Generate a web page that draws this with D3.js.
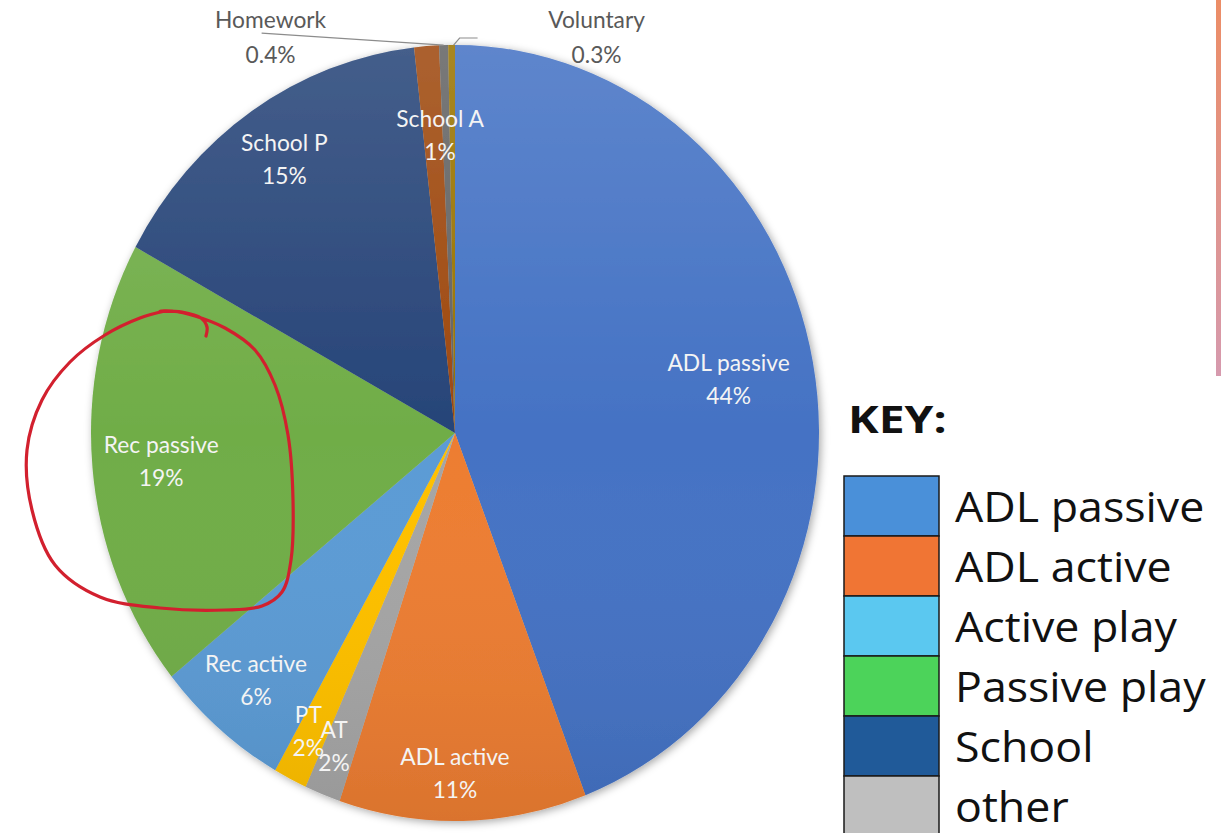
<!DOCTYPE html>
<html><head><meta charset="utf-8">
<script src="https://cdn.jsdelivr.net/npm/d3@7"></script>
<style>body{margin:0;background:#fff;} svg{display:block}</style>
</head><body>
<svg id="chart" width="1221" height="833"></svg>
<script>
// ---- data ----
const categories = ["ADL passive","ADL active","AT","PT","Rec active","Rec passive","School P","School A","Homework","Voluntary"];
const values = [44.3, 11.0, 1.6, 1.5, 6.0, 18.8, 15.3, 1.1, 0.4, 0.3];
const valueLabels = ["44%","11%","2%","2%","6%","19%","15%","1%","0.4%","0.3%"];
const sliceColors = ["#4472C4","#ED7D31","#A5A5A5","#FFC000","#5B9BD5","#70AD47","#264478","#9E480E","#636363","#997300"];
const keyLabels = ["ADL passive","ADL active","Active play","Passive play","School","other"];
const keyColors = ["#4a90d9","#f07534","#5bc8f0","#4cd35a","#205a99","#bfbfbf"];

// ---- layout ----
const W = 1221, H = 833;
const cx = 455, cy = 433, rx = 364, ry = 388;
const labelRadius = [0.77, 0.876, 0.867, 0.86, 0.835, 0.805, 0.85, 0.77];
const labelNudgeX = [-2, -7, -6, -5, -2, -2, 2, 7];
const outsideOffsets = {"Homework": {dx: -173, side: "left"}, "Voluntary": {dx: 145, side: "right"}};

const svg = d3.select("#chart");
const defs = svg.append("defs");
const sh = defs.append("filter").attr("id","shadow").attr("x","-10%").attr("y","-10%").attr("width","120%").attr("height","120%");
sh.append("feDropShadow").attr("dx",2).attr("dy",2).attr("stdDeviation",4).attr("flood-color","#000").attr("flood-opacity",0.35);
const ov = defs.append("linearGradient").attr("id","overlay").attr("x1",0).attr("y1",0).attr("x2",0).attr("y2",1);
ov.append("stop").attr("offset","0%").attr("stop-color","#fff").attr("stop-opacity",0.14);
ov.append("stop").attr("offset","50%").attr("stop-color","#fff").attr("stop-opacity",0);
ov.append("stop").attr("offset","100%").attr("stop-color","#000").attr("stop-opacity",0.08);
const bar = defs.append("linearGradient").attr("id","edgebar").attr("x1",0).attr("y1",0).attr("x2",0).attr("y2",1);
bar.append("stop").attr("offset","0%").attr("stop-color","#ec8d66");
bar.append("stop").attr("offset","100%").attr("stop-color","#d69aae");

const data = categories.map((c,i)=>({name:c, value:values[i], label:valueLabels[i], color:sliceColors[i]}));
const pie = d3.pie().sort(null).value(d=>d.value);
const arcs = pie(data);
const arc = d3.arc().innerRadius(0).outerRadius(ry);

const pg = svg.append("g").attr("filter","url(#shadow)");
const g = pg.append("g").attr("transform",`translate(${cx},${cy}) scale(${rx/ry},1)`);
g.selectAll("path.slice").data(arcs).join("path")
  .attr("class","slice")
  .attr("d", arc)
  .attr("fill", d=>d.data.color);
g.append("circle").attr("r", ry).attr("fill","url(#overlay)");

function pt(a, f){ return [cx + Math.sin(a)*rx*f, cy - Math.cos(a)*ry*f]; }

// inside labels
const lab = svg.append("g").attr("font-family","Lato, 'Open Sans', sans-serif").attr("font-size",24).attr("fill","#f4f4f4").attr("text-anchor","middle");
arcs.forEach((d,i)=>{
  if (outsideOffsets[d.data.name]) return;
  const a = (d.startAngle+d.endAngle)/2;
  const [x,y] = pt(a, labelRadius[i]);
  const t = lab.append("text").attr("transform",`translate(${x+labelNudgeX[i]},${y}) scale(0.95,1)`);
  t.append("tspan").attr("x",0).attr("y",-8).text(d.data.name);
  t.append("tspan").attr("x",0).attr("y",25).text(d.data.label);
});

// outside labels with leader lines
const ol = svg.append("g").attr("font-family","Lato, 'Open Sans', sans-serif").attr("font-size",24).attr("fill","#595959").attr("text-anchor","middle");
arcs.forEach(d=>{
  const o = outsideOffsets[d.data.name];
  if (!o) return;
  const a = (d.startAngle+d.endAngle)/2;
  const [ex,ey] = pt(a, 1);
  const lx = ex + o.dx;
  const t = ol.append("text").attr("transform",`translate(${lx},${ey}) scale(0.95,1)`);
  t.append("tspan").attr("x",0).attr("y",-17).text(d.data.name);
  t.append("tspan").attr("x",0).attr("y",18).text(d.data.label);
  let pts;
  if (o.side === "left") pts = [[lx-9, ey-12],[ex, ey]];
  else pts = [[lx-119, ey-7],[ex+8, ey-7],[ex+2, ey]];
  svg.append("path").attr("d", d3.line()(pts)).attr("fill","none").attr("stroke","#8c8c8c").attr("stroke-width",1.2);
});

// hand-drawn annotation loop
const annotation = [[165,311],[140,318],[105,335],[70,362],[42,400],[27,450],[32,510],[55,565],[100,597],[160,608],[225,610],[262,606],[282,592],[291,560],[293,500],[288,435],[275,385],[255,350],[225,328],[195,316],[172,311],[160,311],[182,312],[201,318],[207,327],[206,336]];
svg.append("path").attr("d", d3.line().curve(d3.curveCatmullRom)(annotation))
  .attr("fill","none").attr("stroke","#d2202e").attr("stroke-width",3.2).attr("stroke-linecap","round").attr("stroke-linejoin","round");

// key
const kx = 844, ky = 476, kw = 95, kh = 60;
svg.append("text").attr("transform","translate(848,433) scale(1.25,1)").attr("font-family","'Open Sans', Lato, sans-serif").attr("font-weight",700).attr("font-size",37).attr("fill","#111").text("KEY:");
const kg = svg.append("g");
keyLabels.forEach((k,i)=>{
  kg.append("rect").attr("x",kx).attr("y",ky+i*kh).attr("width",kw).attr("height",kh).attr("fill",keyColors[i]).attr("stroke","#1a1a1a").attr("stroke-width",1.5);
  kg.append("text").attr("transform",`translate(955,${ky+i*kh+46}) scale(1.065,1)`).attr("font-family","'Open Sans', Lato, sans-serif").attr("font-size",42).attr("fill","#111").text(k);
});

// right edge strip
svg.append("rect").attr("x",1216).attr("y",0).attr("width",5).attr("height",376).attr("fill","url(#edgebar)");
</script>
</body></html>
